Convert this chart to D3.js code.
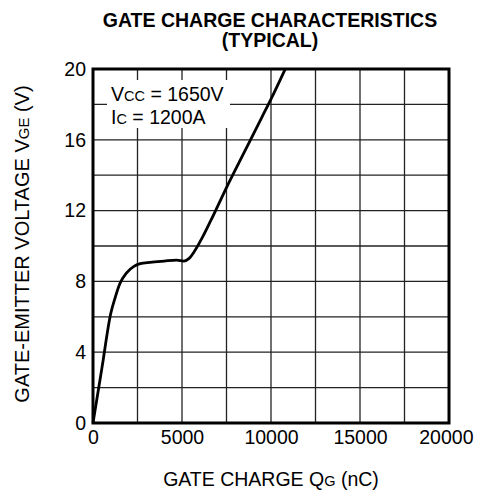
<!DOCTYPE html>
<html><head><meta charset="utf-8">
<script src="https://cdn.jsdelivr.net/npm/d3@7"></script>
<style>body{margin:0;background:#fff}svg{display:block}text{font-family:"Liberation Sans",Arial,sans-serif}</style>
</head><body><svg id="c" width="478" height="495"></svg>
<script>
const gateCharge = [0,500,1000,1250,1500,1900,2300,2650,3200,4000,4700,5100,5400,5700,6100,6600,7500,8500,9500,10000,10800];
const vge =        [0,3.1,6.2,7.1,7.85,8.5,8.85,9.0,9.08,9.15,9.2,9.15,9.3,9.7,10.4,11.4,13.3,15.3,17.3,18.3,20];
const xTicks = [0,5000,10000,15000,20000];
const yTicks = [0,4,8,12,16,20];
const xGrid = [2500,5000,7500,10000,12500,15000,17500];
const yGrid = [2,4,6,8,10,12,14,16,18];

const svg = d3.select("#c");
const L=93, R=449, T=69, B=423;
const FS = 19.5;
const x = d3.scaleLinear().domain([0,20000]).range([L,R]);
const y = d3.scaleLinear().domain([0,20]).range([B,T]);

// grid
svg.append("g").selectAll("line").data(xGrid).join("line")
  .attr("x1",d=>x(d)).attr("x2",d=>x(d)).attr("y1",T).attr("y2",B)
  .attr("stroke","#222").attr("stroke-width",1.3);
svg.append("g").selectAll("line").data(yGrid).join("line")
  .attr("y1",d=>y(d)).attr("y2",d=>y(d)).attr("x1",L).attr("x2",R)
  .attr("stroke","#222").attr("stroke-width",1.3);

// legend box
svg.append("rect").attr("x",107).attr("y",80).attr("width",123).attr("height",48).attr("fill","#fff");
const leg = svg.append("text").attr("x",111).attr("y",101).attr("font-size",FS);
leg.append("tspan").text("V");
leg.append("tspan").attr("font-size",14.5).text("CC");
leg.append("tspan").text(" = 1650V");
const leg2 = svg.append("text").attr("x",111).attr("y",124).attr("font-size",FS);
leg2.append("tspan").text("I");
leg2.append("tspan").attr("font-size",14.5).text("C");
leg2.append("tspan").text(" = 1200A");

// curve
const pts = gateCharge.map((g,i)=>[g,vge[i]]);
svg.append("path").datum(pts)
  .attr("d", d3.line().x(d=>x(d[0])).y(d=>y(d[1])).curve(d3.curveMonotoneX))
  .attr("fill","none").attr("stroke","#000").attr("stroke-width",2.8);

// frame
svg.append("rect").attr("x",L).attr("y",T).attr("width",R-L).attr("height",B-T)
  .attr("fill","none").attr("stroke","#000").attr("stroke-width",3);

// axes (tick labels)
const xAxis = svg.append("g").attr("transform",`translate(0,${B})`)
  .call(d3.axisBottom(x).tickValues(xTicks).tickSize(0).tickPadding(7).tickFormat(d3.format("d")));
xAxis.select(".domain").remove();
xAxis.selectAll("text").attr("font-size",FS).attr("fill","#000").attr("font-family","Liberation Sans, Arial, sans-serif");
xAxis.selectAll("text").filter(d=>d===20000).attr("text-anchor","end").attr("dx",24);

const yAxis = svg.append("g").attr("transform",`translate(${L},0)`)
  .call(d3.axisLeft(y).tickValues(yTicks).tickSize(0).tickPadding(7));
yAxis.select(".domain").remove();
yAxis.selectAll("text").attr("font-size",FS).attr("fill","#000").attr("font-family","Liberation Sans, Arial, sans-serif");

// titles
svg.append("text").attr("x",270).attr("y",27).attr("text-anchor","middle")
  .attr("font-size",19.5).attr("font-weight","bold").text("GATE CHARGE CHARACTERISTICS");
svg.append("text").attr("x",270).attr("y",47).attr("text-anchor","middle")
  .attr("font-size",19.5).attr("font-weight","bold").text("(TYPICAL)");

const xl = svg.append("text").attr("x",271).attr("y",486).attr("text-anchor","middle").attr("font-size",FS);
xl.append("tspan").text("GATE CHARGE Q");
xl.append("tspan").attr("font-size",14.5).text("G");
xl.append("tspan").text(" (nC)");

const yl = svg.append("text").attr("transform","translate(29,244) rotate(-90)").attr("text-anchor","middle").attr("font-size",20);
yl.append("tspan").text("GATE-EMITTER VOLTAGE V");
yl.append("tspan").attr("font-size",15).text("GE");
yl.append("tspan").text(" (V)");
</script></body></html>
